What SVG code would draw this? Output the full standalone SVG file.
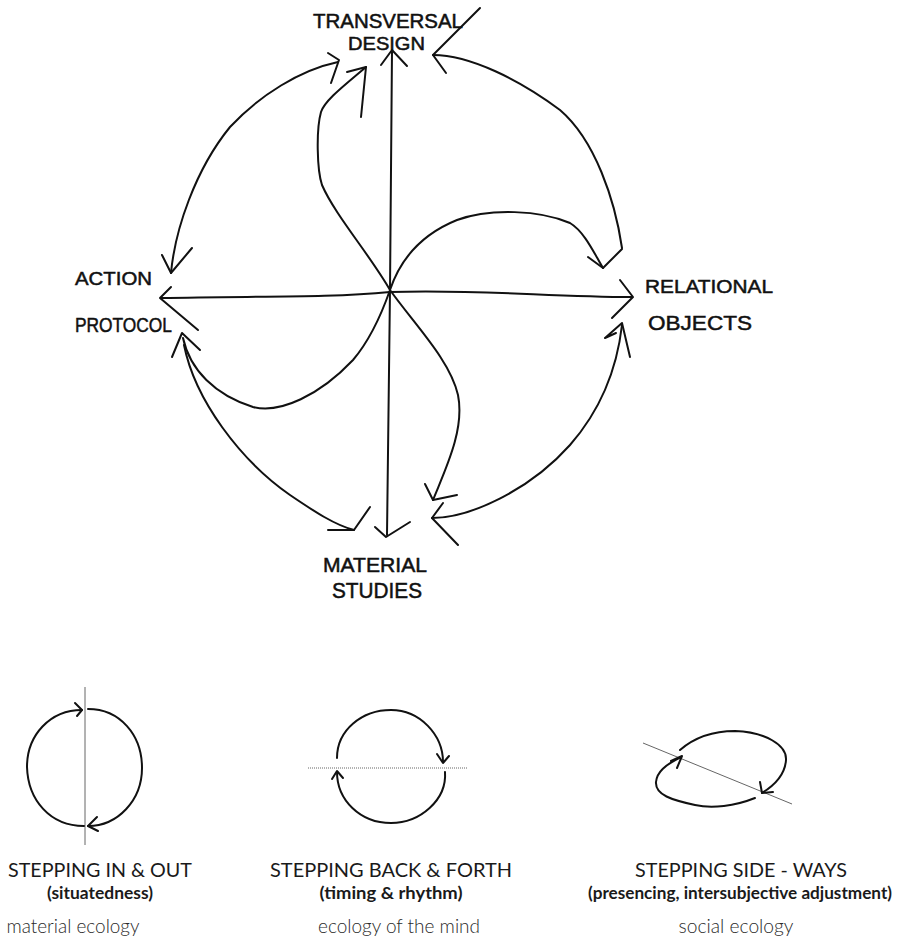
<svg xmlns="http://www.w3.org/2000/svg" width="901" height="948" viewBox="0 0 901 948">
<style>
.ink{fill:none;stroke:#111;stroke-width:2;stroke-linecap:round;stroke-linejoin:round}
.thin{fill:none;stroke:#666;stroke-width:1}
.hand{font-family:"Liberation Sans","DejaVu Sans",sans-serif;fill:#111;stroke:#111;stroke-width:0.5}
.title{font-family:Lato,"Open Sans",sans-serif;font-size:19px;fill:#1a1a1a;text-anchor:middle}
.sub{font-family:Lato,"Open Sans",sans-serif;font-size:17px;font-weight:700;fill:#1a1a1a;text-anchor:middle}
.eco{font-family:Lato,"Open Sans",sans-serif;font-size:19px;font-weight:300;fill:#2a2a2a;text-anchor:middle}
</style>
<rect width="901" height="948" fill="#fff"/>

<g id="node-transversal-design">
<text class="hand" x="313" y="28" font-size="20" textLength="150" lengthAdjust="spacingAndGlyphs">TRANSVERSAL</text>
<text class="hand" x="348" y="50" font-size="18" textLength="77" lengthAdjust="spacingAndGlyphs">DESIGN</text>
</g>
<g id="node-action-protocol">
<text class="hand" x="75" y="285" font-size="19" textLength="77" lengthAdjust="spacingAndGlyphs">ACTION</text>
<text class="hand" x="75" y="332" font-size="20" textLength="97" lengthAdjust="spacingAndGlyphs">PROTOCOL</text>
</g>
<g id="node-relational-objects">
<text class="hand" x="645" y="293" font-size="19" textLength="128" lengthAdjust="spacingAndGlyphs">RELATIONAL</text>
<text class="hand" x="648" y="330" font-size="21" textLength="104" lengthAdjust="spacingAndGlyphs">OBJECTS</text>
</g>
<g id="node-material-studies">
<text class="hand" x="323" y="572" font-size="20" textLength="104" lengthAdjust="spacingAndGlyphs">MATERIAL</text>
<text class="hand" x="332" y="598" font-size="22" textLength="90" lengthAdjust="spacingAndGlyphs">STUDIES</text>
</g>

<g id="connectors">
<path class="ink" d="M392,52 C391,150 390,250 390,290 C389,380 388,460 387,535"/>
<path class="ink" d="M381,65 L392,50 L407,66"/>
<path class="ink" d="M375,527 L386,537 L410,522"/>
<path class="ink" d="M161,298 C260,296 330,298 390,292 C480,289 550,297 632,297"/>
<path class="ink" d="M171,287 L160,298 L198,330"/>
<path class="ink" d="M620,280 L633,297 L612,318"/>
<path class="ink" d="M366,67 C345,85 325,100 321,112 C316,130 317,170 322,185 C335,215 370,255 390,290 C415,325 450,360 458,395 C465,430 445,470 433,500"/>
<path class="ink" d="M347,72 L366,67 L361,117"/>
<path class="ink" d="M425,484 L433,500 L457,495"/>
<path class="ink" d="M183,338 C190,370 215,395 253,407 C280,414 320,395 353,360 C370,340 383,310 390,290 C400,260 420,235 457,220 C490,208 540,210 570,223 C585,232 595,255 603,268"/>
<path class="ink" d="M588,257 L603,268 L622,249"/>
<path class="ink" d="M172,357 L182,333 L200,350"/>
<path class="ink" d="M171,273 C175,230 195,170 230,127 C260,95 300,70 338,62"/>
<path class="ink" d="M328,53 L339,60 L331,83"/>
<path class="ink" d="M162,255 L171,273 L192,248"/>
<path class="ink" d="M433,55 C470,55 520,80 560,110 C595,140 615,200 622,248"/>
<path class="ink" d="M480,8 L433,55 L446,73"/>
<path class="ink" d="M184,345 C195,400 240,460 290,495 C315,512 335,525 354,530"/>
<path class="ink" d="M328,530 L354,530 L370,507"/>
<path class="ink" d="M432,518 C470,518 530,490 570,445 C605,405 618,360 622,325"/>
<path class="ink" d="M443,503 L432,518 L458,545"/>
<path class="ink" d="M605,338 L622,323 L630,357 M605,338 L616,333"/>
</g>

<g id="stepping-in-out">
<path class="thin" d="M85,687 L85,845"/>
<path class="ink" d="M84,826 C50,826 28,800 27,767 C27,735 50,710 82,710"/>
<path class="ink" d="M75,703 L82,710 L77,716"/>
<path class="ink" d="M88,709 C120,709 142,735 142,768 C142,800 118,826 88,826"/>
<path class="ink" d="M97,817 L88,826 L98,831"/>
<text class="title" x="100" y="877" textLength="184" lengthAdjust="spacingAndGlyphs">STEPPING IN &amp; OUT</text>
<text class="sub" x="100" y="899" textLength="106" lengthAdjust="spacingAndGlyphs">(situatedness)</text>
<text class="eco" x="73" y="933" textLength="133" lengthAdjust="spacingAndGlyphs">material ecology</text>
</g>

<g id="stepping-back-forth">
<path class="thin" d="M308,768 L468,768" stroke-dasharray="1,1"/>
<path class="ink" d="M337,758 C337,730 362,710 391,710 C420,710 443,735 443,762"/>
<path class="ink" d="M437,754 L443,763 L449,756"/>
<path class="ink" d="M445,772 C447,800 420,823 391,823 C360,823 337,800 337,772"/>
<path class="ink" d="M332,779 L337,771 L343,778"/>
<text class="title" x="391" y="877" textLength="242" lengthAdjust="spacingAndGlyphs">STEPPING BACK &amp; FORTH</text>
<text class="sub" x="391" y="899" textLength="143" lengthAdjust="spacingAndGlyphs">(timing &amp; rhythm)</text>
<text class="eco" x="399" y="933" textLength="162" lengthAdjust="spacingAndGlyphs">ecology of the mind</text>
</g>

<g id="stepping-side-ways">
<path class="thin" d="M643,743 L792,804"/>
<path class="ink" d="M680,750 C695,737 715,731 735,731 C765,732 787,745 786,760 C785,775 775,785 762,793"/>
<path class="ink" d="M760,782 L762,793 L773,792"/>
<path class="ink" d="M755,798 C735,806 712,809 695,805 C672,800 655,795 656,782 C657,772 665,765 681,757"/>
<path class="ink" d="M671,761 L682,756 L677,768"/>
<text class="title" x="741" y="877" textLength="212" lengthAdjust="spacingAndGlyphs">STEPPING SIDE - WAYS</text>
<text class="sub" x="740" y="899" textLength="304" lengthAdjust="spacingAndGlyphs">(presencing, intersubjective adjustment)</text>
<text class="eco" x="736" y="933" textLength="115" lengthAdjust="spacingAndGlyphs">social ecology</text>
</g>
</svg>
